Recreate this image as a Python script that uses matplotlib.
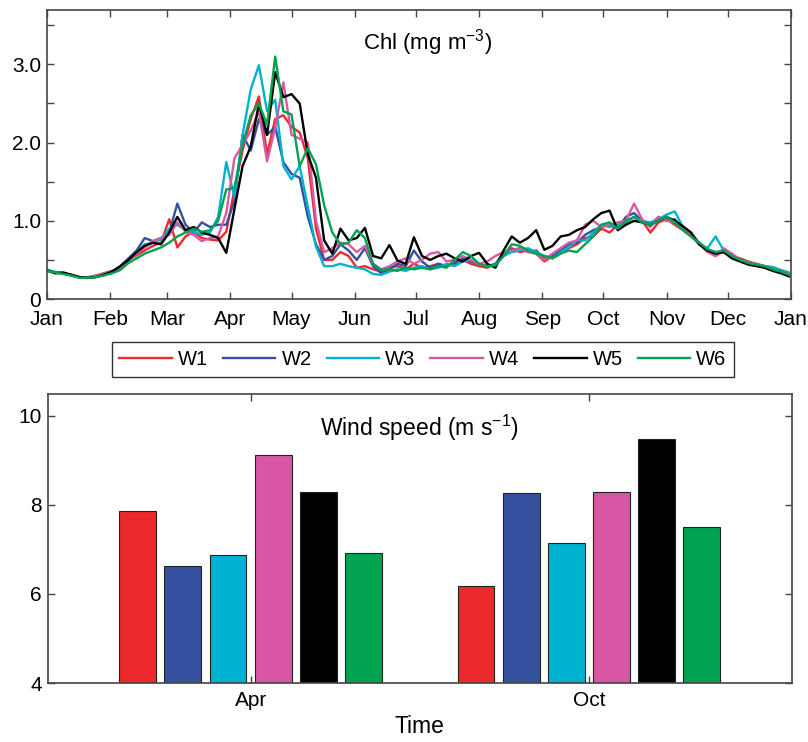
import numpy as np
import matplotlib.pyplot as plt

plt.rcParams['font.family'] = ['Liberation Sans', 'DejaVu Sans']
plt.rcParams['mathtext.default'] = 'regular'

# day of year of each chlorophyll sample (every 4 days)
days = np.arange(0, 365, 4)

chl_w1 = [0.37, 0.34, 0.33, 0.31, 0.28, 0.28, 0.30, 0.33, 0.36, 0.40,
          0.50, 0.56, 0.62, 0.68, 0.72, 1.02, 0.66, 0.80, 0.86, 0.78,
          0.76, 0.75, 0.86, 1.40, 1.90, 2.30, 2.59, 1.85, 2.30, 2.35,
          2.20, 2.13, 1.80, 0.90, 0.50, 0.50, 0.60, 0.55, 0.40, 0.42,
          0.38, 0.35, 0.40, 0.42, 0.38, 0.45, 0.40, 0.42, 0.45, 0.42,
          0.48, 0.50, 0.45, 0.42, 0.40, 0.45, 0.55, 0.65, 0.60, 0.62,
          0.58, 0.48, 0.55, 0.60, 0.65, 0.70, 0.78, 0.80, 0.90, 0.85,
          0.95, 0.98, 1.05, 1.00, 0.85, 0.98, 1.02, 0.95, 0.88, 0.80,
          0.70, 0.62, 0.55, 0.62, 0.55, 0.52, 0.48, 0.45, 0.42, 0.38,
          0.35, 0.32]
chl_w2 = [0.36, 0.34, 0.33, 0.30, 0.28, 0.27, 0.29, 0.31, 0.35, 0.42,
          0.52, 0.62, 0.78, 0.74, 0.78, 0.85, 1.22, 0.95, 0.85, 0.98,
          0.92, 0.95, 0.95, 1.25, 2.10, 1.90, 2.30, 2.10, 2.20, 1.75,
          1.60, 1.55, 1.05, 0.70, 0.50, 0.55, 0.70, 0.62, 0.50, 0.65,
          0.42, 0.33, 0.38, 0.45, 0.42, 0.62, 0.48, 0.40, 0.45, 0.42,
          0.45, 0.52, 0.48, 0.45, 0.42, 0.45, 0.58, 0.62, 0.65, 0.60,
          0.62, 0.52, 0.55, 0.62, 0.70, 0.72, 0.82, 0.88, 0.92, 0.95,
          0.90, 1.05, 1.10, 1.00, 0.95, 1.05, 1.00, 1.02, 0.90, 0.82,
          0.72, 0.62, 0.60, 0.60, 0.55, 0.50, 0.47, 0.44, 0.42, 0.40,
          0.37, 0.33]
chl_w3 = [0.37, 0.35, 0.32, 0.31, 0.28, 0.27, 0.29, 0.32, 0.35, 0.41,
          0.50, 0.60, 0.70, 0.72, 0.76, 0.90, 0.95, 0.88, 0.86, 0.82,
          0.85, 1.05, 1.75, 1.30, 2.10, 2.68, 2.99, 2.40, 2.55, 1.70,
          1.53, 1.70, 1.18, 0.67, 0.42, 0.42, 0.45, 0.42, 0.40, 0.38,
          0.32, 0.31, 0.35, 0.38, 0.36, 0.40, 0.42, 0.38, 0.40, 0.45,
          0.42, 0.48, 0.50, 0.45, 0.42, 0.44, 0.55, 0.60, 0.62, 0.65,
          0.60, 0.55, 0.52, 0.60, 0.66, 0.75, 0.75, 0.85, 0.95, 0.92,
          0.95, 0.98, 1.05, 1.00, 0.98, 1.02, 1.08, 1.12, 0.92, 0.82,
          0.70, 0.65, 0.80, 0.62, 0.58, 0.50, 0.46, 0.45, 0.42, 0.41,
          0.37, 0.34]
chl_w4 = [0.36, 0.33, 0.33, 0.30, 0.28, 0.27, 0.30, 0.32, 0.34, 0.39,
          0.49, 0.58, 0.66, 0.74, 0.78, 0.82, 0.98, 0.86, 0.82, 0.74,
          0.78, 0.80, 1.10, 1.80, 1.97, 2.15, 2.40, 1.76, 2.19, 2.77,
          2.10, 2.05, 2.00, 1.00, 0.60, 0.65, 0.72, 0.70, 0.60, 0.68,
          0.45, 0.38, 0.42, 0.48, 0.52, 0.45, 0.50, 0.58, 0.60, 0.48,
          0.50, 0.55, 0.50, 0.45, 0.48, 0.55, 0.60, 0.62, 0.65, 0.60,
          0.58, 0.50, 0.58, 0.65, 0.72, 0.75, 0.95, 1.00, 0.92, 0.95,
          0.98, 1.00, 1.22, 1.02, 0.92, 1.05, 1.00, 0.98, 0.90, 0.82,
          0.70, 0.60, 0.55, 0.65, 0.58, 0.50, 0.47, 0.45, 0.42, 0.38,
          0.35, 0.32]
chl_w5 = [0.37, 0.33, 0.34, 0.31, 0.28, 0.27, 0.28, 0.31, 0.35, 0.42,
          0.50, 0.60, 0.68, 0.72, 0.70, 0.85, 1.05, 0.88, 0.92, 0.85,
          0.82, 0.78, 0.59, 1.15, 1.70, 1.95, 2.50, 2.10, 2.90, 2.58,
          2.62, 2.50, 1.85, 1.55, 0.75, 0.58, 0.90, 0.75, 0.78, 0.91,
          0.55, 0.52, 0.69, 0.49, 0.45, 0.79, 0.55, 0.50, 0.55, 0.58,
          0.52, 0.48, 0.55, 0.59, 0.45, 0.40, 0.62, 0.80, 0.72, 0.78,
          0.88, 0.63, 0.68, 0.80, 0.82, 0.88, 0.92, 1.02, 1.10, 1.13,
          0.88, 0.95, 1.00, 0.98, 0.95, 1.00, 1.05, 1.00, 0.93, 0.85,
          0.70, 0.62, 0.58, 0.60, 0.52, 0.48, 0.44, 0.42, 0.40, 0.36,
          0.33, 0.29]
chl_w6 = [0.36, 0.34, 0.32, 0.30, 0.27, 0.27, 0.28, 0.30, 0.33, 0.37,
          0.46, 0.52, 0.58, 0.62, 0.66, 0.72, 0.80, 0.85, 0.90, 0.86,
          0.88, 1.00, 1.40, 1.42, 1.97, 2.35, 2.50, 2.23, 3.10, 2.40,
          2.36, 1.70, 1.93, 1.72, 1.20, 0.85, 0.70, 0.72, 0.88, 0.78,
          0.45, 0.37, 0.38, 0.36, 0.40, 0.38, 0.40, 0.38, 0.42, 0.40,
          0.50, 0.60, 0.55, 0.45, 0.42, 0.43, 0.55, 0.70, 0.68, 0.62,
          0.58, 0.55, 0.52, 0.58, 0.62, 0.60, 0.70, 0.80, 0.95, 0.98,
          0.90, 1.00, 1.05, 0.98, 0.95, 1.00, 1.05, 0.98, 0.88, 0.80,
          0.72, 0.64, 0.60, 0.62, 0.55, 0.50, 0.46, 0.44, 0.42, 0.38,
          0.35, 0.31]

names = ['W1', 'W2', 'W3', 'W4', 'W5', 'W6']
colors = ['#ec2a2d', '#34509f', '#00b2d1', '#d958a5', '#000000', '#00a34f']

month_days = [0, 31, 59, 90, 120, 151, 181, 212, 243, 273, 304, 334, 365]
month_labels = ['Jan', 'Feb', 'Mar', 'Apr', 'May', 'Jun', 'Jul', 'Aug',
                'Sep', 'Oct', 'Nov', 'Dec', 'Jan']

# mean wind speed per station for April and October
periods = ['Apr', 'Oct']
wind_apr = [7.86, 6.62, 6.87, 9.13, 8.29, 6.93]
wind_oct = [6.18, 8.26, 7.14, 8.29, 9.47, 7.51]

fig = plt.figure(figsize=(8.08, 7.42), dpi=100)
ax1 = fig.add_axes([0.058, 0.597, 0.921, 0.39])
ax2 = fig.add_axes([0.059, 0.0795, 0.921, 0.39])

spine_col = '#444444'

# chlorophyll time series
series = [chl_w1, chl_w2, chl_w3, chl_w4, chl_w5, chl_w6]
for s, name, c in zip(series, names, colors):
    ax1.plot(days, s, color=c, lw=1.7, label=name)

ax1.set_xlim(0, 365)
ax1.set_ylim(0, 3.7)
ax1.set_xticks(month_days)
ax1.set_xticklabels(month_labels)
ax1.set_yticks(np.arange(0, 3.6, 0.5))
ax1.set_yticklabels(['0', '', '1.0', '', '2.0', '', '3.0', ''])
ax1.text(0.512, 0.888, 'Chl (mg m$^{\u22123}$)', transform=ax1.transAxes,
         ha='center', va='center', fontsize=16)

fig.legend(loc='center', bbox_to_anchor=(0.5235, 0.5155), ncol=6,
           fontsize=14.5, frameon=True, fancybox=False, edgecolor='black',
           handlelength=2.6, columnspacing=0.75, handletextpad=0.3,
           borderpad=0.38, borderaxespad=0)
fig.legends[0].get_frame().set_linewidth(1.0)

# grouped bars of wind speed
x = np.arange(1, len(periods) + 1)
step = 0.1335
width = 0.109
for k, (name, c) in enumerate(zip(names, colors)):
    vals = [wind_apr[k], wind_oct[k]]
    ax2.bar(x + (k - 2.5) * step, [v - 4 for v in vals], width, bottom=4,
            color=c, edgecolor='#222222', linewidth=0.8)

ax2.set_xlim(0.4, 2.6)
ax2.set_ylim(4, 10.5)
ax2.set_xticks(x)
ax2.set_xticklabels(periods)
ax2.set_yticks([4, 6, 8, 10])
ax2.set_xlabel('Time', fontsize=16.5, labelpad=3)
ax2.text(0.5, 0.882, 'Wind speed (m s$^{\u22121}$)', transform=ax2.transAxes,
         ha='center', va='center', fontsize=16.5)

for ax in (ax1, ax2):
    ax.tick_params(direction='in', top=True, right=True, length=5,
                   width=1.0, color=spine_col, labelsize=15, pad=4)
    for sp in ax.spines.values():
        sp.set_color(spine_col)
        sp.set_linewidth(1.2)
ax1.tick_params(axis='x', pad=8)
ax2.tick_params(axis='x', pad=6)

fig.savefig('out.png', dpi=100)
